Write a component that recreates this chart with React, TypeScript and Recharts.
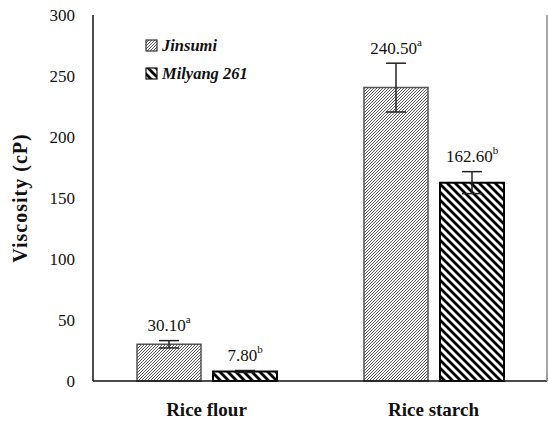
import React from 'react';
import { BarChart, Bar, XAxis, YAxis, ErrorBar, LabelList, ReferenceLine, Customized } from 'recharts';

const categories = ['Rice flour', 'Rice starch'];
const jinsumi = [30.1, 240.5];
const milyang = [7.8, 162.6];
const jinsumiErr = [3, 20];
const milyangErr = [0.8, 9];
const jinsumiSig = ['a', 'a'];
const milyangSig = ['b', 'b'];
const yTicks = [0, 50, 100, 150, 200, 250, 300];

const data = categories.map((name, i) => ({
  name,
  jinsumi: jinsumi[i],
  milyang: milyang[i],
  jErr: jinsumiErr[i],
  mErr: milyangErr[i],
}));

const serif = 'Liberation Serif';

// value label with a superscript letter, sitting just above the error bar
const makeLabel = (errs: number[], sigs: string[]) => (props: any) => {
  const { x, y, width, height, value, index } = props;
  const ppu = height / value;
  const top = y - errs[index] * ppu - 9.5;
  return (
    <text x={x + width / 2} y={top} textAnchor="middle" fontFamily={serif} fontSize={17} fill="#111">
      {Number(value).toFixed(2)}
      <tspan fontSize={11} dy={-8}>{sigs[index]}</tspan>
    </text>
  );
};

const LegendBox = () => (
  <g>
    <rect x={146} y={40} width={11} height={11} fill="url(#patJ)" stroke="#333" strokeWidth={1.2} />
    <text x={162} y={51} fontFamily={serif} fontWeight="bold" fontStyle="italic" fontSize={16.5} fill="#111">Jinsumi</text>
    <rect x={146} y={68} width={11} height={11} fill="url(#patM)" stroke="#111" strokeWidth={1.2} />
    <text x={162} y={79} fontFamily={serif} fontWeight="bold" fontStyle="italic" fontSize={16.5} fill="#111">Milyang 261</text>
  </g>
);

export default function App() {
  return (
    <div style={{ position: 'absolute', left: 0, top: 0, background: '#fff' }}>
      <BarChart
        width={548}
        height={421}
        data={data}
        margin={{ top: 15, right: 0, bottom: 0, left: 0 }}
        barSize={64}
        barGap={12}
      >
        <defs>
          <pattern id="patJ" patternUnits="userSpaceOnUse" width={3} height={3}>
            <rect width={3} height={3} fill="#fff" />
            <path d="M-1,1 l2,-2 M0,3 l3,-3 M2,4 l2,-2" stroke="#444" strokeWidth={0.9} />
          </pattern>
          <pattern id="patM" patternUnits="userSpaceOnUse" width={8} height={8}>
            <rect width={8} height={8} fill="#fff" />
            <path d="M-2,6 l4,4 M0,0 l8,8 M6,-2 l4,4" stroke="#000" strokeWidth={2.8} />
          </pattern>
        </defs>
        <XAxis
          dataKey="name"
          height={40}
          axisLine={{ stroke: '#111', strokeWidth: 1.5 }}
          tickLine={false}
          tickMargin={16}
          tick={{ fontFamily: serif, fontWeight: 'bold', fontSize: 19, fill: '#111' }}
        />
        <XAxis xAxisId="t" type="number" domain={[0, 2]} orientation="top" height={0} tick={false} tickLine={false} axisLine={{ stroke: '#333', strokeWidth: 1.5 }} />
        <YAxis
          width={93}
          domain={[0, 300]}
          ticks={yTicks}
          axisLine={{ stroke: '#111', strokeWidth: 1.5 }}
          tickLine={false}
          tickSize={6}
          tickMargin={12}
          tick={{ fontFamily: serif, fontSize: 17, fill: '#111' }}
          label={{
            value: 'Viscosity (cP)',
            angle: -90,
            position: 'insideLeft',
            offset: 20,
            fontFamily: serif,
            fontWeight: 'bold',
            fontSize: 20,
            fill: '#111',
            style: { textAnchor: 'middle', letterSpacing: 1 },
          }}
        />
        <YAxis yAxisId="r" orientation="right" width={1} domain={[0, 300]} tick={false} tickLine={false} axisLine={{ stroke: '#888', strokeWidth: 1.5 }} />
        <ReferenceLine xAxisId="t" segment={[{ x: 1, y: 0 }, { x: 1, y: 6 }]} stroke="#bbb" strokeWidth={1.5} />
        <Bar dataKey="jinsumi" fill="url(#patJ)" stroke="#555" strokeWidth={1.5} isAnimationActive={false}>
          <ErrorBar dataKey="jErr" width={10} stroke="#222" strokeWidth={1.5} />
          <LabelList dataKey="jinsumi" content={makeLabel(jinsumiErr, jinsumiSig)} />
        </Bar>
        <Bar dataKey="milyang" fill="url(#patM)" stroke="#000" strokeWidth={2} isAnimationActive={false}>
          <ErrorBar dataKey="mErr" width={10} stroke="#222" strokeWidth={1.5} />
          <LabelList dataKey="milyang" content={makeLabel(milyangErr, milyangSig)} />
        </Bar>
        <Customized component={LegendBox} />
      </BarChart>
    </div>
  );
}
